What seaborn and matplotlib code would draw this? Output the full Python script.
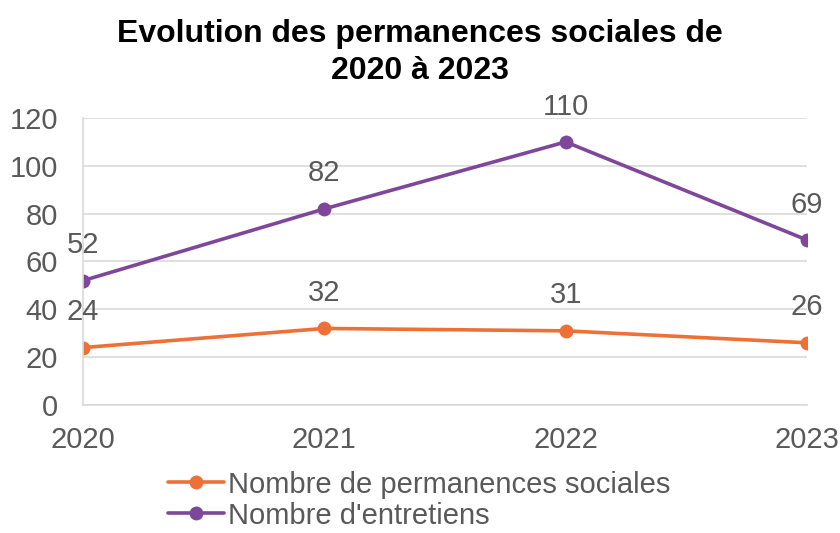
import matplotlib
matplotlib.use("Agg")
import matplotlib.pyplot as plt
import seaborn as sns
import pandas as pd

years = [2020, 2021, 2022, 2023]
permanences = [24, 32, 31, 26]
entretiens = [52, 82, 110, 69]
series_names = ["Nombre de permanences sociales", "Nombre d'entretiens"]
colors = ["#ED7037", "#7E479A"]
y_ticks = [0, 20, 40, 60, 80, 100, 120]

df = pd.DataFrame({
    "Année": years * 2,
    "Valeur": permanences + entretiens,
    "Série": [series_names[0]] * len(years) + [series_names[1]] * len(years),
})

sns.set_theme(style="white")
plt.rcParams["font.family"] = ["Liberation Sans", "DejaVu Sans"]
text_color = "#595959"
fs = 21

fig = plt.figure(figsize=(8.4, 5.33), dpi=100)
ax = fig.add_axes([0.0988, 0.2402, 0.8619, 0.5384])

sns.lineplot(data=df, x="Année", y="Valeur", hue="Série",
             palette=dict(zip(series_names, colors)),
             marker="o", markersize=10, markeredgewidth=0, linewidth=2.6,
             ax=ax, legend=False)

for vals, col in zip([permanences, entretiens], colors):
    for x, v in zip(years, vals):
        ax.annotate(str(v), (x, v), xytext=(0, 25.5), textcoords="offset points",
                    ha="center", va="center", fontsize=fs, color=text_color)

ax.set_xlim(years[0], years[-1])
ax.set_ylim(0, 120)
ax.set_yticks(y_ticks)
ax.set_xticks(years)
ax.set_xticklabels([str(y) for y in years])
ax.tick_params(axis="both", length=0, labelsize=fs, labelcolor=text_color)
ax.tick_params(axis="y", pad=18)
ax.tick_params(axis="x", pad=15)
ax.set_xlabel("")
ax.set_ylabel("")
ax.grid(axis="y", color="#D9D9D9", linewidth=1.2)
ax.grid(axis="x", visible=False)
for side in ["top", "right"]:
    ax.spines[side].set_visible(False)
for side in ["left", "bottom"]:
    ax.spines[side].set_color("#D9D9D9")
    ax.spines[side].set_linewidth(1.2)

fig.suptitle("Evolution des permanences sociales de\n2020 à 2023",
             x=0.5, y=0.965, fontsize=23, fontweight="bold", color="black",
             linespacing=1.3)

handles = [plt.Line2D([], [], color=c, marker="o", markersize=10,
                      markeredgewidth=0, linewidth=2.6) for c in colors]
fig.legend(handles, series_names, loc="lower left",
           bbox_to_anchor=(0.183, -0.021), frameon=False, fontsize=fs,
           labelcolor=text_color, handlelength=1.9, handletextpad=0.15,
           labelspacing=0.1, borderpad=0.0)

fig.savefig("out.png", dpi=100)
